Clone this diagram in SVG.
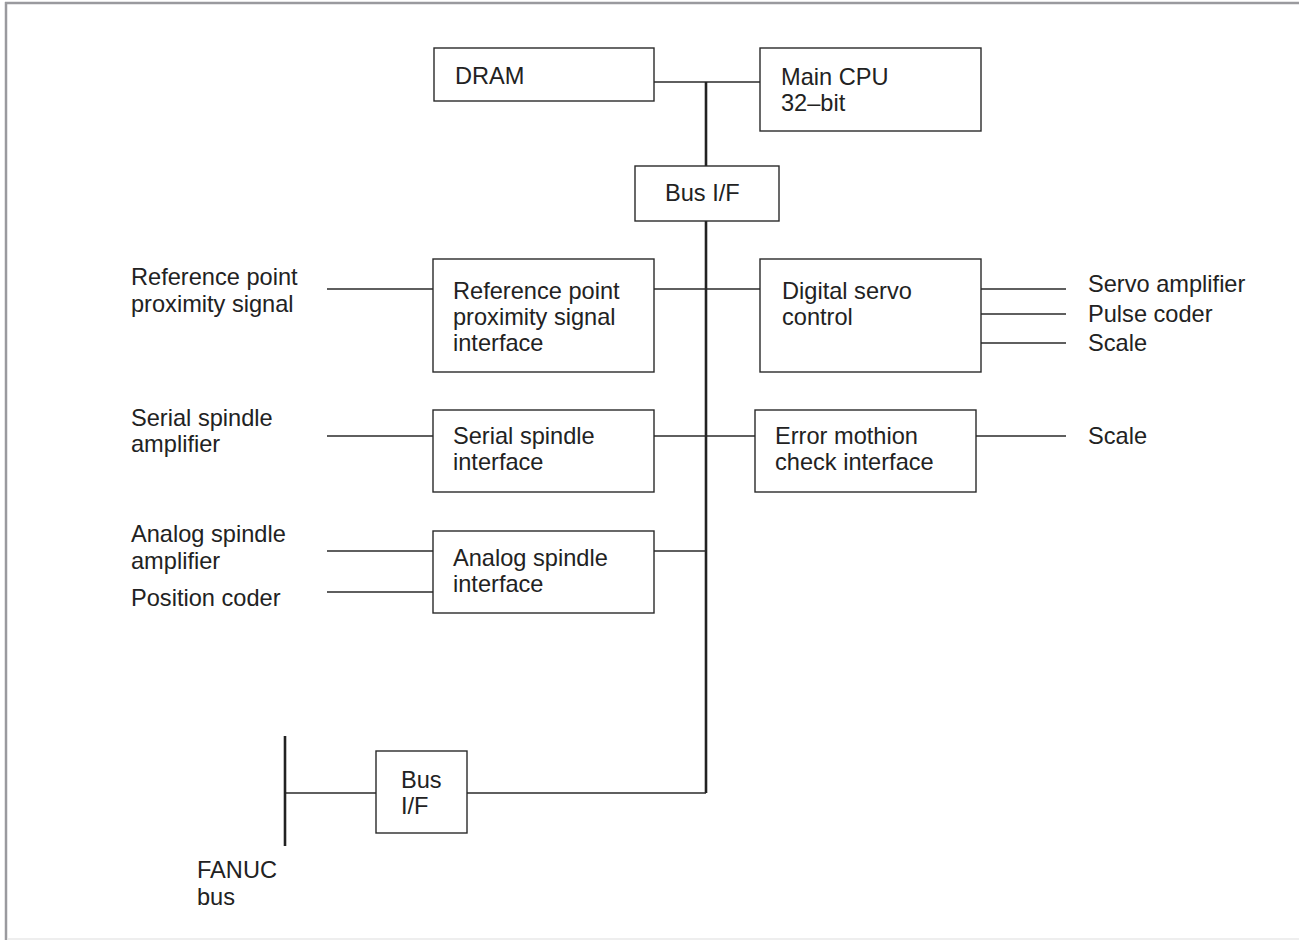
<svg xmlns="http://www.w3.org/2000/svg" width="1299" height="940" viewBox="0 0 1299 940">
<style>
.box{fill:#fff;stroke:#2a2a2a;stroke-width:1.4}
.ln{stroke:#2a2a2a;stroke-width:1.4;fill:none}
.bus{stroke:#222;stroke-width:2.6;fill:none}
text{font-family:"Liberation Sans",Arial,sans-serif;font-size:23.6px;fill:#222}
</style>
<rect x="0" y="0" width="1299" height="940" fill="#fff"/>
<g id="frame">
<line x1="5" y1="3" x2="1299" y2="3" stroke="#9a9a9e" stroke-width="2.5"/>
<line x1="6" y1="2" x2="6" y2="940" stroke="#9a9a9e" stroke-width="2.5"/>
<line x1="7" y1="939" x2="1299" y2="939" stroke="#e8e8e8" stroke-width="1.5"/>
</g>
<g id="connectors">
<line class="ln" x1="654" y1="82" x2="760" y2="82"/>
<line class="bus" x1="706" y1="82" x2="706" y2="793"/>
<line class="ln" x1="327" y1="289" x2="433" y2="289"/>
<line class="ln" x1="654" y1="289" x2="760" y2="289"/>
<line class="ln" x1="981" y1="289" x2="1066" y2="289"/>
<line class="ln" x1="981" y1="314" x2="1066" y2="314"/>
<line class="ln" x1="981" y1="343" x2="1066" y2="343"/>
<line class="ln" x1="327" y1="436" x2="433" y2="436"/>
<line class="ln" x1="654" y1="436" x2="755" y2="436"/>
<line class="ln" x1="976" y1="436" x2="1066" y2="436"/>
<line class="ln" x1="327" y1="551" x2="433" y2="551"/>
<line class="ln" x1="327" y1="592" x2="433" y2="592"/>
<line class="ln" x1="654" y1="551" x2="706" y2="551"/>
<line class="ln" x1="467" y1="793" x2="706" y2="793"/>
<line class="ln" x1="285" y1="793" x2="376" y2="793"/>
<line class="bus" x1="285" y1="736" x2="285" y2="846"/>
</g>
<g id="dram"><rect class="box" x="434" y="48" width="220" height="53"/><text x="455" y="84">DRAM</text></g>
<g id="cpu"><rect class="box" x="760" y="48" width="221" height="83"/><text x="781" y="85">Main CPU</text><text x="781" y="111">32–bit</text></g>
<g id="busif"><rect class="box" x="635" y="166" width="144" height="55"/><text x="665" y="201">Bus I/F</text></g>
<g id="refsig"><text x="131" y="285">Reference point</text><text x="131" y="312">proximity signal</text></g>
<g id="refif"><rect class="box" x="433" y="259" width="221" height="113"/><text x="453" y="299">Reference point</text><text x="453" y="325">proximity signal</text><text x="453" y="351">interface</text></g>
<g id="servo"><rect class="box" x="760" y="259" width="221" height="113"/><text x="782" y="299">Digital servo</text><text x="782" y="325">control</text></g>
<g id="servoamp"><text x="1088" y="292">Servo amplifier</text></g>
<g id="pulse"><text x="1088" y="322">Pulse coder</text></g>
<g id="scale1"><text x="1088" y="351">Scale</text></g>
<g id="serialamp"><text x="131" y="426">Serial spindle</text><text x="131" y="452">amplifier</text></g>
<g id="serialif"><rect class="box" x="433" y="410" width="221" height="82"/><text x="453" y="444">Serial spindle</text><text x="453" y="470">interface</text></g>
<g id="errif"><rect class="box" x="755" y="410" width="221" height="82"/><text x="775" y="444">Error mothion</text><text x="775" y="470">check interface</text></g>
<g id="scale2"><text x="1088" y="444">Scale</text></g>
<g id="analogamp"><text x="131" y="542">Analog spindle</text><text x="131" y="569">amplifier</text></g>
<g id="poscoder"><text x="131" y="606">Position coder</text></g>
<g id="analogif"><rect class="box" x="433" y="531" width="221" height="82"/><text x="453" y="566">Analog spindle</text><text x="453" y="592">interface</text></g>
<g id="busif2"><rect class="box" x="376" y="751" width="91" height="82"/><text x="401" y="788">Bus</text><text x="401" y="814">I/F</text></g>
<g id="fanuc"><text x="197" y="878">FANUC</text><text x="197" y="905">bus</text></g>
</svg>
